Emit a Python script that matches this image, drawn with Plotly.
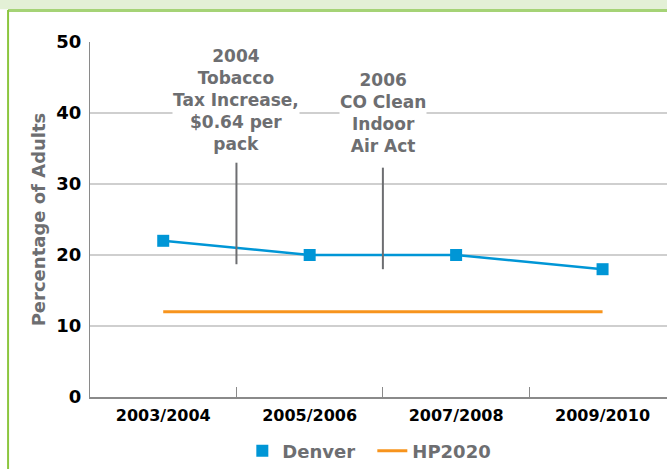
import plotly.graph_objects as go

periods = ["2003/2004", "2005/2006", "2007/2008", "2009/2010"]
denver = [22, 20, 20, 18]
hp2020 = [12, 12, 12, 12]
event_pos = [0.5, 1.5]
event_text = ["2004<br>Tobacco<br>Tax Increase,<br>$0.64 per<br>pack",
              "2006<br>CO Clean<br>Indoor<br>Air Act"]
event_text_top = [49.6, 46.2]
event_line_top = [33.0, 32.3]
event_line_bottom = [18.7, 18.0]

FONT = "DejaVu Sans, Verdana, sans-serif"
GRAY = "#6d6e71"
BLUE = "#0096d6"
ORANGE = "#f7941d"

xi = list(range(len(periods)))

fig = go.Figure()
fig.add_trace(go.Scatter(x=xi, y=denver, name="Denver", mode="lines",
                         line=dict(color=BLUE, width=2.5), showlegend=False))
fig.add_trace(go.Scatter(x=xi, y=denver, name="Denver", mode="markers",
                         marker=dict(symbol="square", size=12, color=BLUE)))
fig.add_trace(go.Scatter(x=xi, y=hp2020, name="HP2020", mode="lines",
                         line=dict(color=ORANGE, width=3)))

for xp, yt, yb in zip(event_pos, event_line_top, event_line_bottom):
    fig.add_shape(type="line", x0=xp, x1=xp, y0=yb, y1=yt, xref="x", yref="y",
                  line=dict(color=GRAY, width=2))
for xp, txt, yt in zip(event_pos, event_text, event_text_top):
    fig.add_annotation(x=xp, y=yt, xref="x", yref="y", text=txt, showarrow=False,
                       yanchor="top", xanchor="center", align="center",
                       bgcolor="white", borderpad=0,
                       font=dict(family=FONT, size=17, color=GRAY, weight="bold"))

# page decorations: top band and green frame
fig.add_shape(type="rect", xref="paper", yref="paper", x0=-1, x1=2, y0=1.092, y1=1.3,
              fillcolor="#e3f0d6", line_width=0, layer="below")
fig.add_shape(type="line", xref="paper", yref="paper", x0=-0.142, x1=2, y0=1.089, y1=1.089,
              line=dict(color="#a5d376", width=3))
fig.add_shape(type="line", xref="paper", yref="paper", x0=-0.142, x1=-0.142, y0=-0.3, y1=1.09,
              line=dict(color="#8cc63f", width=2))

fig.update_layout(
    width=667, height=469,
    margin=dict(l=90, r=0, t=42, b=72, autoexpand=False),
    paper_bgcolor="white", plot_bgcolor="white",
    font=dict(family=FONT),
    showlegend=True,
    legend=dict(orientation="h", x=0.264, xanchor="left", y=-0.1, yanchor="top",
                font=dict(family=FONT, size=18, color=GRAY, weight="bold"),
                itemwidth=30, entrywidth=85, tracegroupgap=0),
    xaxis=dict(range=[-0.5, 3.44], tickmode="array", tickvals=xi, ticktext=periods,
               showgrid=False, zeroline=False, showline=True, linecolor="#8a8a8a", linewidth=1.5,
               ticks="", ticklabelstandoff=3,
               tickfont=dict(family=FONT, size=16, color="black", weight="bold"),
               minor=dict(tickvals=[0.5, 1.5, 2.5], ticks="inside", ticklen=10,
                          tickcolor="#8a8a8a", tickwidth=1, showgrid=False)),
    yaxis=dict(range=[0, 50], dtick=10, showgrid=True, gridcolor="#cfcfcf", gridwidth=1.5,
               zeroline=False, showline=True, linecolor="#8a8a8a", linewidth=1,
               ticks="", ticklabelstandoff=4,
               tickfont=dict(family=FONT, size=18, color="black", weight="bold"),
               title=dict(text="Percentage of Adults", standoff=6,
                          font=dict(family=FONT, size=18, color=GRAY, weight="bold"))),
)

fig.write_html("out.html")
